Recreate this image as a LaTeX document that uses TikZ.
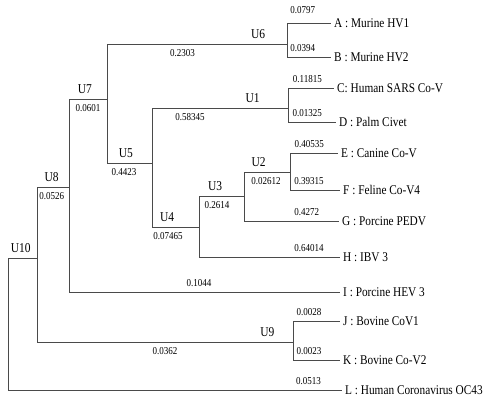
\documentclass[tikz,border=0pt]{standalone}
\usepackage{fontspec}
\setmainfont{Liberation Serif}[FakeStretch=0.85]
\usepackage{tikz}
\usetikzlibrary{positioning,calc}
\definecolor{branchgray}{HTML}{4A4A4A}
\tikzset{
  % tree
  br/.style={draw=branchgray,line width=0.9pt},
  leaf/.style={anchor=west,inner xsep=3pt,inner ysep=0pt,text depth=0pt,
               font=\fontsize{13.3}{15}\selectfont},
  ul/.style={above=3.5pt,inner sep=1pt,font=\fontsize{13.5}{15}\selectfont},
  bl/.style={below=3.5pt,inner sep=1pt,font=\fontsize{10.6}{12}\selectfont},
  al/.style={above=3.5pt,inner sep=1pt,font=\fontsize{10.6}{12}\selectfont},
}
\begin{document}
\begin{tikzpicture}[x=1pt,y=-1pt]
\useasboundingbox (0,0) rectangle (488,397);
  % inner nodes
  \coordinate (root) at (8,258);
  \coordinate (u10) at (37,258);
  \coordinate (u8) at (69,187);
  \coordinate (u7) at (107,99);
  \coordinate (u6) at (287,44);
  \coordinate (u5) at (152,163);
  \coordinate (u1) at (288,108);
  \coordinate (u4) at (199,227);
  \coordinate (u3) at (244,196);
  \coordinate (u2) at (290,172);
  \coordinate (u9) at (293,342);
  % leaves
  \node[leaf] (a) at (331,23) {A : Murine HV1};
  \node[leaf] (b) at (331,57) {B : Murine HV2};
  \node[leaf] (c) at (334,88) {C: Human SARS Co-V};
  \node[leaf] (d) at (336,122) {D : Palm Civet};
  \node[leaf] (e) at (338,153) {E : Canine Co-V};
  \node[leaf] (f) at (340,190) {F : Feline Co-V4};
  \node[leaf] (g) at (339,221) {G : Porcine PEDV};
  \node[leaf] (h) at (340,257) {H : IBV 3};
  \node[leaf] (i) at (340,292) {I : Porcine HEV 3};
  \node[leaf] (j) at (340,321) {J : Bovine CoV1};
  \node[leaf] (k) at (340,360) {K : Bovine Co-V2};
  \node[leaf] (l) at (342,390) {L : Human Coronavirus OC43};
  % branches
  \draw[br] (root) |- node[ul,pos=.72] {U10} (u10);
  \draw[br] (root) |- node[al,pos=.95] {0.0513} (l);
  \draw[br] (u10) |- node[ul,pos=.73] {U8} node[bl,pos=.73] {0.0526} (u8);
  \draw[br] (u10) |- node[ul,pos=.95] {U9} node[bl,pos=.75] {0.0362} (u9);
  \draw[br] (u8) |- node[ul,pos=.71] {U7} node[bl,pos=.75] {0.0601} (u7);
  \draw[br] (u8) |- node[al,pos=.74] {0.1044} (i);
  \draw[br] (u7) |- node[ul,pos=.92] {U6} node[bl,pos=.71] {0.2303} (u6);
  \draw[br] (u7) |- node[ul,pos=.71] {U5} node[bl,pos=.69] {0.4423} (u5);
  \draw[br] (u5) |- node[ul,pos=.87] {U1} node[bl,pos=.64] {0.58345} (u1);
  \draw[br] (u5) |- node[ul,pos=.66] {U4} node[bl,pos=.67] {0.07465} (u4);
  \draw[br] (u4) |- node[ul,pos=.68] {U3} node[bl,pos=.70] {0.2614} (u3);
  \draw[br] (u4) |- node[al,pos=.89] {0.64014} (h);
  \draw[br] (u3) |- node[ul,pos=.66] {U2} node[bl,pos=.74] {0.02612} (u2);
  \draw[br] (u3) |- node[al,pos=.83] {0.4272} (g);
  \draw[br] (u2) |- node[al,pos=.70] {0.40535} (e);
  \draw[br] (u2) |- node[al,pos=.69] {0.39315} (f);
  \draw[br] (u1) |- node[al,pos=.71] {0.11815} (c);
  \draw[br] (u1) |- node[al,pos=.70] {0.01325} (d);
  \draw[br] (u6) |- node[al,pos=.68,yshift=4pt] {0.0797} (a);
  \draw[br] (u6) |- node[al,pos=.68] {0.0394} (b);
  \draw[br] (u9) |- node[al,pos=.67] {0.0028} (j);
  \draw[br] (u9) |- node[al,pos=.67] {0.0023} (k);
\end{tikzpicture}
\end{document}
